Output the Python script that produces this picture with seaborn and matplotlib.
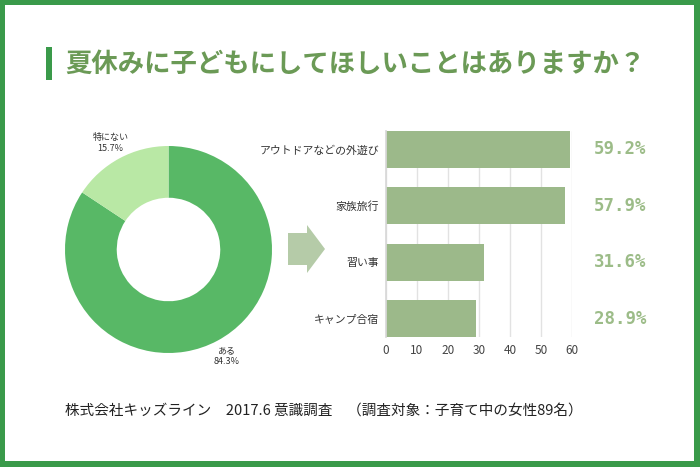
import matplotlib
matplotlib.use("Agg")
import matplotlib.pyplot as plt
import matplotlib.patches as mpatches
import matplotlib.transforms as mtransforms
import numpy as np
import seaborn as sns

# donut data
pie_labels = ["ある", "特にない"]
pie_values = [84.3, 15.7]
pie_colors = ["#58b866", "#b9e8a5"]

# bar data
bar_cats = ["アウトドアなどの外遊び", "家族旅行", "習い事", "キャンプ合宿"]
bar_values = [59.2, 57.9, 31.6, 28.9]
bar_ticks = [0, 10, 20, 30, 40, 50, 60]

title = "夏休みに子どもにしてほしいことはありますか？"
footer = "株式会社キッズライン　2017.6 意識調査　（調査対象：子育て中の女性89名）"

sns.set_theme(style="white")
plt.rcParams["font.family"] = ["Noto Sans CJK JP", "DejaVu Sans"]

W, H = 700, 467
fig = plt.figure(figsize=(7, 4.67), dpi=100, facecolor="#3a9a4a")

def px(x, y):
    return x / W, 1 - y / H

# white card inside the green border
fig.patches.append(mpatches.Rectangle((5 / W, 6 / H), 689 / W, 456 / H,
                                      transform=fig.transFigure, facecolor="white",
                                      edgecolor="none", zorder=-5))

# title with accent bar
fig.patches.append(mpatches.Rectangle(px(46, 80), 6 / W, 33 / H,
                                      transform=fig.transFigure, facecolor="#3a9a4a",
                                      edgecolor="none", zorder=1))
fig.text(*px(65, 64), title, fontsize=19, fontweight="bold", color="#6b9a56",
         ha="left", va="center")

# donut
ax_pie = fig.add_axes([65 / W, 1 - 353 / H, 207 / W, 207 / H])
ax_pie.patch.set_visible(False)
wedges, _ = ax_pie.pie(pie_values, colors=pie_colors, startangle=90, counterclock=False,
                       wedgeprops=dict(width=0.5, edgecolor="none"))
ax_pie.set_xlim(-1, 1)
ax_pie.set_ylim(-1, 1)
ax_pie.set_aspect("equal")
ax_pie.axis("off")
for w, lab, val in zip(wedges, pie_labels, pie_values):
    ang = np.deg2rad((w.theta1 + w.theta2) / 2)
    ax_pie.text(1.18 * np.cos(ang), 1.17 * np.sin(ang), f"{lab}\n{val}%",
                ha="center", va="center", fontsize=6.5, color="#333333",
                linespacing=1.3, clip_on=False)

# arrow between the charts
arrow = [(288, 233), (307, 233), (307, 225), (325, 249), (307, 273), (307, 265), (288, 265)]
fig.patches.append(mpatches.Polygon([px(x, y) for x, y in arrow], closed=True,
                                    transform=fig.transFigure, facecolor="#b5cba8",
                                    edgecolor="none"))

# bars
ax = fig.add_axes([386 / W, 1 - 337 / H, 186 / W, 206 / H])
ax.patch.set_visible(False)
sns.barplot(x=bar_values, y=bar_cats, color="#9cb98a", saturation=1, width=0.65,
            linewidth=0, ax=ax)
ax.set_xlim(0, 60)
ax.set_ylim(3.325, -0.325)
ax.set_xticks(bar_ticks)
ax.xaxis.grid(True, color="#e2e2e2", linewidth=1)
ax.set_axisbelow(True)
for s in ["top", "right", "bottom"]:
    ax.spines[s].set_visible(False)
ax.spines["left"].set_color("#d8d8d8")
ax.tick_params(axis="x", labelsize=8.5, colors="#444444", length=0, pad=5)
ax.tick_params(axis="y", labelsize=7.8, colors="#333333", length=0, pad=5)

trans = mtransforms.blended_transform_factory(fig.transFigure, ax.transData)
for i, v in enumerate(bar_values):
    ax.text(620 / W, i, f"{v}%", transform=trans, ha="center", va="center",
            fontsize=12.5, fontweight="bold", color="#9cbc88", family="DejaVu Sans Mono")

# footer
fig.text(*px(65, 411), footer, fontsize=10.5, color="#222222", ha="left", va="center")

fig.savefig("out.png", dpi=100, facecolor=fig.get_facecolor())
